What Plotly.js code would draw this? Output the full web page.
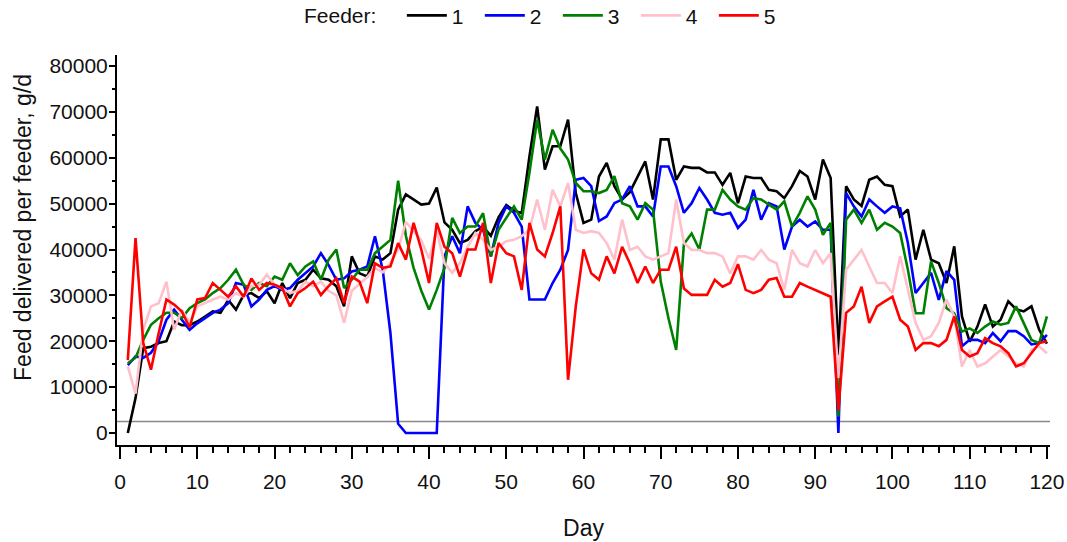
<!DOCTYPE html>
<html><head><meta charset="utf-8">
<script src="https://cdn.plot.ly/plotly-3.0.1.min.js"></script>
<style>html,body{margin:0;padding:0;background:#fff}#chart{width:1067px;height:542px}</style>
</head><body><div id="chart"></div>
<script>
// Days 1..120 (x categories)
const days = Array.from({length: 120}, (_, i) => i + 1);
const feederNames = ['1', '2', '3', '4', '5'];
const feederColors = ['#000000', '#0000FF', '#008000', '#FFC0CB', '#FF0000'];
const referenceLevel = 2500;

const feeder1 = [0,7600,18500,18800,19600,20000,24300,23500,23500,24300,
25400,26500,26200,29000,26900,30100,30500,29400,30900,28300,
32700,29400,32700,33400,35600,33700,33400,32000,27600,38500,
34800,34100,38500,37800,39200,48700,52000,50900,49800,50000,
53500,45900,44300,41400,42100,44000,45000,43000,47000,49700,
48500,47900,60300,71200,57400,62500,62500,68300,52300,45800,
46500,55900,58900,53800,50900,52500,55700,59200,50900,64000,
64000,55200,58100,57800,57800,56800,56800,54100,56700,50100,
55900,55600,55600,53000,52700,51200,53800,57100,55900,50900,
59600,55600,17000,53800,50900,49500,55200,55900,54100,53800,
47200,48700,37800,44300,37800,37000,32700,40700,25400,19900,
23200,28000,23200,24700,28700,27000,26500,27600,22500,19500];

const feeder2 = [14800,16700,16400,17500,20000,24700,26900,24700,22500,23900,
25000,26200,26900,28300,32700,32300,27600,29100,31200,32000,
31200,31600,33400,34800,36300,39200,36600,33400,33700,35200,
35600,36300,42900,35600,21800,2000,0,0,0,0,
0,38500,42900,39200,49400,45800,44300,38500,45800,49400,
48000,45000,29100,29100,29100,32700,35600,39900,55200,55600,
53800,46200,47200,50100,50900,53800,49400,49400,47200,58100,
58100,53800,48000,50100,53400,50900,48000,47600,48000,44700,
46500,53000,46500,50100,49400,40000,45000,46500,45000,46100,
44300,44300,0,52300,49400,47200,50900,49400,48000,49400,
49000,41400,30500,32700,34900,29000,35300,33400,18900,20300,
20300,19600,21800,20000,22200,22200,21100,19300,19600,21400];

const feeder3 = [15200,16400,20300,23600,25000,26200,26200,25000,27200,28300,
29100,30500,31600,33400,35600,32300,31200,32700,32000,34100,
33400,37000,34400,36300,37400,33400,37800,40000,31600,33400,
35600,35600,39200,40700,42100,55000,43000,36000,31000,26900,
31200,36000,46900,43600,45000,45000,47900,38500,44300,46900,
49400,46500,56700,68300,59600,66100,62000,59600,54500,52700,
52700,52300,53000,56000,50100,49400,46500,50100,48700,33000,
25000,18100,41200,43500,40000,48700,48700,53000,50900,49400,
48700,51200,50900,49800,48700,50500,45000,48000,51600,48700,
43200,45800,3600,46500,48700,45800,48700,44300,45800,45000,
43600,35600,26100,26100,37400,32700,27200,26100,22100,22800,
21800,23200,24300,23600,24000,27600,24000,20300,19600,25400];

const feeder4 = [14500,8600,22500,27600,28300,33000,22500,26900,24000,27600,
28300,29100,29700,29100,30500,29700,32000,32300,34500,32300,
31500,30500,31000,33000,32000,33000,31000,30000,24000,31000,
32500,34000,36000,35000,37000,40000,46000,44000,42000,38000,
44000,37000,34900,37000,40600,43600,42100,39900,40600,41800,
42100,42900,44300,50900,44300,53000,49400,54500,44300,43600,
44000,43600,41400,37800,46500,39900,40600,38500,37800,38500,
39200,50900,41400,39900,39900,39200,39200,38500,34800,38500,
38500,37800,39900,37800,37000,31200,39900,37000,36300,39900,
37000,39200,12000,35600,37800,39900,36300,32700,32700,30500,
38500,31200,24000,20300,21100,24000,29100,25400,14500,18100,
14500,15200,16700,18100,16700,15200,14500,18100,18900,17400];

const feeder5 = [15900,42500,19600,13800,21800,29100,28000,26500,23000,29100,
29400,32700,31200,29700,32000,29700,33700,31200,32700,32300,
31600,27600,30500,31600,33000,30100,32000,33700,28300,34100,
33000,28300,37000,36000,36300,41400,37800,45800,40000,32700,
45800,40600,39200,34100,40000,40000,45800,32700,41400,39200,
38500,31200,45800,40000,38500,43600,49400,11600,27600,40000,
34800,33400,38500,34800,40600,37000,32700,36300,32700,35600,
35600,40600,31500,30100,30100,30100,33400,31900,32700,36800,
31200,30500,31200,33400,33800,29700,29700,32700,31900,31200,
30500,29700,5000,26200,27600,31900,24000,27600,28700,29700,
24700,23200,18100,19600,19600,18900,20300,25400,18100,16700,
17400,20700,19600,18900,17400,14500,15200,17400,19600,20000];

const xTickVals = [0,10,20,30,40,50,60,70,80,90,100,110,120];
const yTickVals = [0,10000,20000,30000,40000,50000,60000,70000,80000];
const xTitle = 'Day';
const yTitle = 'Feed delivered per feeder, g/d';
const legendTitle = 'Feeder:';

const seriesData = [feeder1, feeder2, feeder3, feeder4, feeder5];
const traces = seriesData.map((vals, i) => ({
  type: 'scatter', mode: 'lines', x: days, y: vals,
  name: feederNames[i],
  line: {color: feederColors[i], width: 2.6},
  hoverinfo: 'x+y+name'
}));

const font = {family: '"Liberation Sans", Arial, sans-serif', size: 21, color: '#111'};

const layout = {
  width: 1067, height: 542,
  margin: {l: 117, r: 17, t: 55, b: 97},
  paper_bgcolor: '#fff', plot_bgcolor: '#fff',
  font: font,
  showlegend: true,
  legend: {
    orientation: 'h', xref: 'container', yref: 'container',
    x: 0.283, xanchor: 'left', y: 0.971, yanchor: 'middle',
    title: {text: legendTitle + '\u00A0\u00A0\u00A0', side: 'left', font: {size: 21}},
    font: {size: 21}, itemwidth: 40, entrywidth: 23,
    traceorder: 'normal', bgcolor: 'rgba(0,0,0,0)'
  },
  xaxis: {
    range: [-0.4, 120.4], showgrid: false, zeroline: false,
    showline: true, linecolor: '#000', linewidth: 2,
    ticks: 'outside', ticklen: 12, tickwidth: 2, tickcolor: '#000',
    tickmode: 'array', tickvals: xTickVals,
    ticklabelstandoff: 5,
    minor: {dtick: 2, tick0: 0, ticks: 'outside', ticklen: 6, tickwidth: 2, tickcolor: '#000', showgrid: false},
    title: {text: xTitle, standoff: 28, font: {size: 23}},
    tickfont: {size: 21}
  },
  yaxis: {
    range: [-2616, 82398], showgrid: false, zeroline: false,
    showline: true, linecolor: '#000', linewidth: 2,
    ticks: 'outside', ticklen: 6, tickwidth: 2, tickcolor: '#000',
    tickmode: 'array', tickvals: yTickVals, tickformat: 'd',
    ticklabelstandoff: -3,
    minor: {dtick: 5000, tick0: 0, ticks: 'outside', ticklen: 3, tickwidth: 2, tickcolor: '#000', showgrid: false},
    tickfont: {size: 21}
  },
  annotations: [{
    text: yTitle, textangle: -90, showarrow: false,
    xref: 'paper', yref: 'paper', x: -0.1008, y: 0.559,
    xanchor: 'center', yanchor: 'middle',
    font: {size: 23, color: '#111'}
  }],
  shapes: [{
    type: 'line', xref: 'paper', x0: 0, x1: 1, yref: 'y', y0: referenceLevel, y1: referenceLevel,
    line: {color: '#888', width: 1.5}, layer: 'below'
  }]
};

Plotly.newPlot('chart', traces, layout, {displayModeBar: false, staticPlot: true});
</script>
</body></html>
